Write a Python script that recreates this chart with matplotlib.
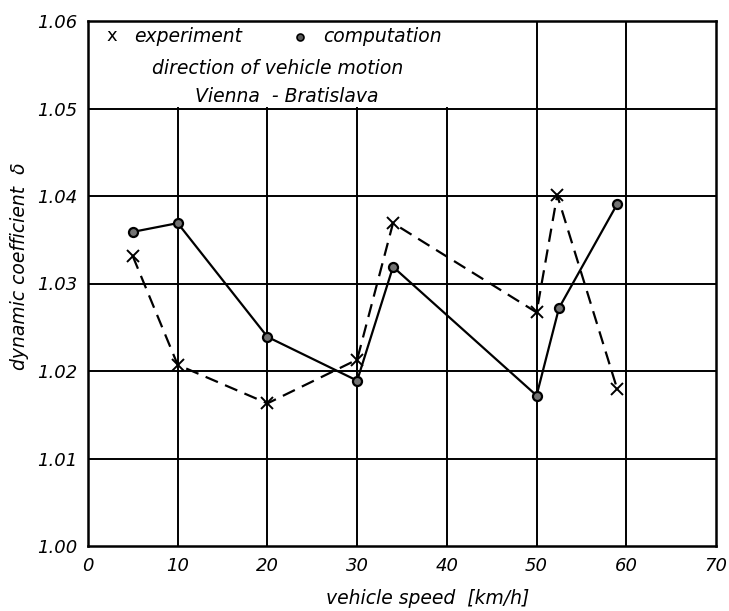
import matplotlib
matplotlib.use('Agg')
import matplotlib.pyplot as plt
from matplotlib.lines import Line2D

# values
speed_exp = [5, 10, 20, 30, 34, 50, 52.3, 59]
delta_exp = [1.0331, 1.0207, 1.0163, 1.0213, 1.0369, 1.0267, 1.0401, 1.0179]
speed_comp = [5, 10, 20, 30, 34, 50, 52.5, 59]
delta_comp = [1.0359, 1.0369, 1.0239, 1.0189, 1.0319, 1.0172, 1.0272, 1.0391]

x_ticks = [0, 10, 20, 30, 40, 50, 60, 70]
y_ticks = [1.00, 1.01, 1.02, 1.03, 1.04, 1.05, 1.06]
y_labels = ['1.00', '1.01', '1.02', '1.03', '1.04', '1.05', '1.06']

plt.rcParams['font.family'] = ['DejaVu Sans']

fig = plt.figure(figsize=(7.29, 6.11), dpi=100)
ax = fig.add_axes([88 / 729, 1 - 546 / 611, 628 / 729, 525 / 611])
ax.set_xlim(0, 70)
ax.set_ylim(1.00, 1.06)

# grid: vertical lines below the legend box stop at 1.05
frac = (1.05 - 1.00) / 0.06
for xv in x_ticks[1:-1]:
    top = 1.0 if xv >= 50 else frac
    ax.axvline(xv, ymin=0, ymax=top, color='k', lw=1.4, zorder=1)
for yv in y_ticks[1:-1]:
    ax.axhline(yv, color='k', lw=1.4, zorder=1)

ax.plot(speed_exp, delta_exp, color='k', lw=1.6, ls=(0, (6, 3.5)),
        marker='x', ms=8, mew=1.4, zorder=3)
ax.plot(speed_comp, delta_comp, color='k', lw=1.6, marker='o', ms=6.5,
        mfc='0.45', mec='k', mew=1.6, zorder=3)

for s in ax.spines.values():
    s.set_linewidth(1.8)

ax.set_xticks(x_ticks)
ax.set_yticks(y_ticks)
ax.set_yticklabels(y_labels)
ax.tick_params(length=0, labelsize=13, pad=8)
for t in ax.get_xticklabels() + ax.get_yticklabels():
    t.set_fontstyle('italic')

# legend / caption box text
fig.text(112 / 729, 1 - 36 / 611, 'x', fontsize=13, ha='center', va='center')
fig.text(134 / 729, 1 - 36 / 611, 'experiment', fontsize=13.5, ha='left',
         va='center', style='italic')
fig.add_artist(Line2D([300 / 729], [1 - 37 / 611], marker='o', ms=5,
                      color='0.35', mec='k', mew=1.2))
fig.text(323 / 729, 1 - 36 / 611, 'computation', fontsize=13.5, ha='left',
         va='center', style='italic')
fig.text(278 / 729, 1 - 68 / 611, 'direction of vehicle motion', fontsize=13.5,
         ha='center', va='center', style='italic')
fig.text(287 / 729, 1 - 96 / 611, 'Vienna  - Bratislava', fontsize=13.5,
         ha='center', va='center', style='italic')

fig.text(428 / 729, 1 - 598 / 611, 'vehicle speed  [km/h]', fontsize=13.5,
         ha='center', va='center', style='italic')
fig.text(20 / 729, 1 - 266 / 611, 'dynamic coefficient  δ', fontsize=13.5,
         ha='center', va='center', rotation=90, style='italic')

fig.savefig('out.png', dpi=100)
